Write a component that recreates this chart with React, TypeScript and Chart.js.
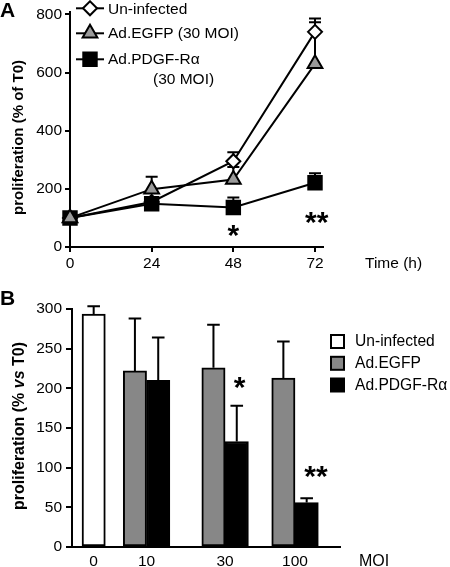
import React, { useEffect, useRef } from 'react';
import { Chart, registerables } from 'chart.js';

Chart.register(...registerables);

const FONT = '"Liberation Sans", Arial, Helvetica, sans-serif';

// ---------------- Panel A data ----------------
const timeHours = [0, 24, 48, 72];
const uninfectedA = [100, 155, 295, 740];
const uninfectedErrA = [0, 10, 31, 46];
const egfpA = [100, 199, 232, 630];
const egfpErrA = [0, 43, 43, 143];
const pdgfA = [100, 149, 136, 221];
const pdgfErrA = [0, 10, 34, 33];
const yTicksA = [0, 200, 400, 600, 800];
const legendLabelsA = ['Un-infected', 'Ad.EGFP (30 MOI)', 'Ad.PDGF-R\u03b1', '(30 MOI)'];
const starsA = [
  { x: 48, y: 54, text: '*' },
  { x: 72.5, y: 100, text: '**' },
];

// ---------------- Panel B data ----------------
const moiLabels = ['0', '10', '30', '100'];
const uninfectedB: (number | null)[] = [293.5, null, null, null];
const uninfectedErrB: (number | null)[] = [10, null, null, null];
const egfpB: (number | null)[] = [null, 222, 226, 213];
const egfpErrB: (number | null)[] = [null, 66, 54, 46];
const pdgfB: (number | null)[] = [null, 210, 133, 56];
const pdgfErrB: (number | null)[] = [null, 54, 45, 5.5];
const yTicksB = [0, 50, 100, 150, 200, 250, 300];
const legendLabelsB = ['Un-infected', 'Ad.EGFP', 'Ad.PDGF-R\u03b1'];
const starsB = [
  { group: 2, y: 207, text: '*' },
  { group: 3, y: 95, text: '**' },
];

// ---------------- layout constants ----------------
const groupCenterB = [0.93, 3.2, 6.57, 9.57];
const starShiftB = [0.62, 0.9];

function drawMarker(ctx: CanvasRenderingContext2D, style: string, x: number, y: number, r: number, fill: string) {
  ctx.save();
  ctx.beginPath();
  if (style === 'rectRot') {
    ctx.moveTo(x - r, y);
    ctx.lineTo(x, y - r);
    ctx.lineTo(x + r, y);
    ctx.lineTo(x, y + r);
    ctx.closePath();
  } else if (style === 'triangle') {
    ctx.moveTo(x, y - r);
    ctx.lineTo(x + 0.866 * r, y + 0.5 * r);
    ctx.lineTo(x - 0.866 * r, y + 0.5 * r);
    ctx.closePath();
  } else {
    const s = 2 * r * Math.SQRT1_2;
    ctx.rect(x - s / 2, y - s / 2, s, s);
  }
  ctx.fillStyle = fill;
  ctx.fill();
  ctx.lineWidth = 2;
  ctx.strokeStyle = '#000';
  ctx.stroke();
  ctx.restore();
}

function drawStar(ctx: CanvasRenderingContext2D, text: string, cx: number, cy: number) {
  ctx.save();
  ctx.font = `bold 30px ${FONT}`;
  ctx.fillStyle = '#000';
  ctx.textAlign = 'center';
  ctx.textBaseline = 'alphabetic';
  const m = ctx.measureText(text);
  const base = cy + (m.actualBoundingBoxAscent - m.actualBoundingBoxDescent) / 2;
  ctx.fillText(text, cx, base);
  ctx.restore();
}

function drawVerticalTitle(ctx: CanvasRenderingContext2D, parts: { t: string; f: string }[], x: number, cy: number) {
  ctx.save();
  ctx.translate(x, cy);
  ctx.rotate(-Math.PI / 2);
  ctx.fillStyle = '#000';
  ctx.textBaseline = 'alphabetic';
  ctx.textAlign = 'left';
  let total = 0;
  parts.forEach((p) => {
    ctx.font = p.f;
    total += ctx.measureText(p.t).width;
  });
  let pos = -total / 2;
  parts.forEach((p) => {
    ctx.font = p.f;
    ctx.fillText(p.t, pos, 0);
    pos += ctx.measureText(p.t).width;
  });
  ctx.restore();
}

function zeroPad(s: any) {
  s.paddingTop = 0;
  s.paddingBottom = 0;
  s.paddingLeft = 0;
  s.paddingRight = 0;
}

const axisCommon = {
  border: { display: true, color: '#000', width: 2 },
};

function buildChartA(canvas: HTMLCanvasElement) {
  const valsA = [uninfectedA, egfpA, pdgfA];
  const errsA = [uninfectedErrA, egfpErrA, pdgfErrA];
  const styles = [
    { ps: 'rectRot', r: 7, bg: '#ffffff', order: 2 },
    { ps: 'triangle', r: 8.5, bg: '#9a9a9a', order: 0 },
    { ps: 'rect', r: 9.5, bg: '#000000', order: 1 },
  ];
  const plugin = {
    id: 'panelA',
    beforeDatasetsDraw(chart: any) {
      const ctx = chart.ctx as CanvasRenderingContext2D;
      const ys = chart.scales.y;
      ctx.save();
      ctx.strokeStyle = '#000';
      ctx.lineWidth = 2;
      errsA.forEach((errs, di) => {
        const meta = chart.getDatasetMeta(di);
        errs.forEach((e, j) => {
          if (!e) return;
          const pt = meta.data[j];
          const v = valsA[di][j];
          const y0 = ys.getPixelForValue(v);
          const y1 = ys.getPixelForValue(v + e);
          ctx.beginPath();
          ctx.moveTo(pt.x, y0);
          ctx.lineTo(pt.x, y1);
          ctx.moveTo(pt.x - 6, y1);
          ctx.lineTo(pt.x + 6, y1);
          ctx.stroke();
        });
      });
      ctx.restore();
    },
    afterDraw(chart: any) {
      const ctx = chart.ctx as CanvasRenderingContext2D;
      const xs = chart.scales.x;
      const ys = chart.scales.y;
      ctx.save();
      ctx.fillStyle = '#000';
      ctx.font = `bold 21px ${FONT}`;
      ctx.textAlign = 'left';
      ctx.textBaseline = 'alphabetic';
      ctx.fillText('A', 0, 16.7);
      ctx.font = `15.5px ${FONT}`;
      ctx.fillText('Time (h)', 365, 268);
      const rows = [
        { y: 8.3, base: 14, s: styles[0], label: legendLabelsA[0] },
        { y: 33.3, base: 38.3, s: styles[1], label: legendLabelsA[1] },
        { y: 59.3, base: 64.3, s: styles[2], label: legendLabelsA[2] },
      ];
      rows.forEach((row) => {
        ctx.save();
        ctx.strokeStyle = '#000';
        ctx.lineWidth = 2;
        ctx.beginPath();
        ctx.moveTo(76, row.y);
        ctx.lineTo(104, row.y);
        ctx.stroke();
        ctx.restore();
        drawMarker(ctx, row.s.ps, 90, row.y, row.s.r, row.s.bg);
        ctx.fillStyle = '#000';
        ctx.font = `15.5px ${FONT}`;
        ctx.fillText(row.label, 108, row.base);
      });
      ctx.fillText(legendLabelsA[3], 153, 84);
      ctx.restore();
      drawVerticalTitle(ctx, [{ t: 'proliferation (% of T0)', f: `bold 15px ${FONT}` }], 23, 137.5);
      starsA.forEach((s) => drawStar(ctx, s.text, xs.getPixelForValue(s.x), ys.getPixelForValue(s.y)));
    },
  };

  return new Chart(canvas, {
    type: 'line',
    data: {
      datasets: valsA.map((vals, i) => ({
        label: legendLabelsA[i],
        data: timeHours.map((t, j) => ({ x: t, y: vals[j] })),
        order: styles[i].order,
        borderColor: '#000',
        borderWidth: 2,
        tension: 0,
        fill: false,
        clip: false as any,
        pointStyle: styles[i].ps as any,
        pointRadius: styles[i].r,
        pointHoverRadius: styles[i].r,
        pointBackgroundColor: styles[i].bg,
        pointBorderColor: '#000',
        pointBorderWidth: 2,
      })),
    },
    options: {
      responsive: false,
      animation: false,
      devicePixelRatio: 1,
      events: [],
      layout: { padding: { left: 0, right: 127, top: 8, bottom: 0 } },
      plugins: { legend: { display: false }, tooltip: { enabled: false } },
      scales: {
        x: {
          type: 'linear',
          min: 0,
          max: 74.35,
          ...axisCommon,
          grid: { drawOnChartArea: false, drawTicks: true, tickLength: 5, color: '#000', lineWidth: 2, offset: false },
          ticks: { color: '#000', padding: 2, font: { family: FONT, size: 15.5 }, maxRotation: 0 },
          afterBuildTicks: (s: any) => {
            s.ticks = timeHours.map((v) => ({ value: v }));
          },
          afterFit: (s: any) => {
            s.height = 33;
            zeroPad(s);
          },
        },
        y: {
          type: 'linear',
          min: 0,
          max: 810,
          ...axisCommon,
          grid: { drawOnChartArea: false, drawTicks: true, tickLength: 5, color: '#000', lineWidth: 2 },
          ticks: { color: '#000', padding: 3, font: { family: FONT, size: 15.5 } },
          afterBuildTicks: (s: any) => {
            s.ticks = yTicksA.map((v) => ({ value: v }));
          },
          afterFit: (s: any) => {
            s.width = 70;
            zeroPad(s);
          },
        },
      },
    } as any,
    plugins: [plugin],
  });
}

function buildChartB(canvas: HTMLCanvasElement) {
  const series = [
    { vals: uninfectedB, errs: uninfectedErrB, shift: 0, bg: '#ffffff' },
    { vals: egfpB, errs: egfpErrB, shift: -0.5, bg: '#878787' },
    { vals: pdgfB, errs: pdgfErrB, shift: 0.5, bg: '#000000' },
  ];
  const pts = series.map((s) =>
    s.vals.flatMap((v, i) => (v == null ? [] : [{ x: groupCenterB[i] + s.shift, y: v, err: s.errs[i] as number }]))
  );

  const plugin = {
    id: 'panelB',
    afterDatasetsDraw(chart: any) {
      const ctx = chart.ctx as CanvasRenderingContext2D;
      const ys = chart.scales.y;
      ctx.save();
      ctx.strokeStyle = '#000';
      ctx.lineWidth = 2;
      pts.forEach((list, di) => {
        const meta = chart.getDatasetMeta(di);
        list.forEach((p, j) => {
          if (!p.err) return;
          const el = meta.data[j];
          const y0 = ys.getPixelForValue(p.y);
          const y1 = ys.getPixelForValue(p.y + p.err);
          ctx.beginPath();
          ctx.moveTo(el.x, y0);
          ctx.lineTo(el.x, y1);
          ctx.moveTo(el.x - 6.3, y1);
          ctx.lineTo(el.x + 6.3, y1);
          ctx.stroke();
        });
      });
      ctx.restore();
    },
    afterDraw(chart: any) {
      const ctx = chart.ctx as CanvasRenderingContext2D;
      const xs = chart.scales.x;
      const ys = chart.scales.y;
      ctx.save();
      ctx.fillStyle = '#000';
      ctx.font = `bold 21px ${FONT}`;
      ctx.textAlign = 'left';
      ctx.textBaseline = 'alphabetic';
      ctx.fillText('B', 0, 25);
      ctx.font = `16px ${FONT}`;
      ctx.fillText('MOI', 359, 285.5);
      const rowsY = [61.5, 83.3, 105];
      const rowsBase = [65.7, 88.3, 110];
      legendLabelsB.forEach((label, i) => {
        ctx.save();
        ctx.fillStyle = series[i].bg;
        ctx.fillRect(331, rowsY[i] - 6.5, 13, 13);
        ctx.strokeStyle = '#000';
        ctx.lineWidth = 2;
        ctx.strokeRect(331, rowsY[i] - 6.5, 13, 13);
        ctx.restore();
        ctx.fillStyle = '#000';
        ctx.font = `15.6px ${FONT}`;
        ctx.fillText(label, 355, rowsBase[i]);
      });
      ctx.restore();
      drawVerticalTitle(
        ctx,
        [
          { t: 'proliferation (% ', f: `bold 16px ${FONT}` },
          { t: 'vs', f: `italic bold 16px ${FONT}` },
          { t: ' T0)', f: `bold 16px ${FONT}` },
        ],
        23.5,
        146
      );
      starsB.forEach((s, i) =>
        drawStar(ctx, s.text, xs.getPixelForValue(groupCenterB[s.group] + starShiftB[i]), ys.getPixelForValue(s.y))
      );
    },
  };

  return new Chart(canvas, {
    type: 'bar',
    data: {
      datasets: series.map((s, i) => ({
        label: legendLabelsB[i],
        data: pts[i].map((p) => ({ x: p.x, y: p.y })),
        backgroundColor: s.bg,
        borderColor: '#000',
        borderWidth: 2,
        borderSkipped: false,
        grouped: false,
        barPercentage: 1,
        categoryPercentage: 1,
      })),
    },
    options: {
      responsive: false,
      animation: false,
      devicePixelRatio: 1,
      events: [],
      layout: { padding: { left: 0, right: 110, top: 29, bottom: 0 } },
      plugins: { legend: { display: false }, tooltip: { enabled: false } },
      scales: {
        x: {
          type: 'linear',
          min: 0,
          max: 11.5,
          offset: false,
          ...axisCommon,
          grid: { display: false, drawOnChartArea: false, drawTicks: false, offset: false },
          ticks: {
            color: '#000',
            padding: 5.5,
            font: { family: FONT, size: 15.5 },
            maxRotation: 0,
            autoSkip: false,
            callback: (_v: any, i: number) => moiLabels[i],
          },
          afterBuildTicks: (s: any) => {
            s.ticks = groupCenterB.map((v) => ({ value: v }));
          },
          afterFit: (s: any) => {
            s.height = 20;
            zeroPad(s);
          },
        },
        y: {
          type: 'linear',
          min: 0,
          max: 300,
          ...axisCommon,
          grid: { drawOnChartArea: false, drawTicks: true, tickLength: 6, color: '#000', lineWidth: 2 },
          ticks: { color: '#000', padding: 4, font: { family: FONT, size: 15.5 } },
          afterBuildTicks: (s: any) => {
            s.ticks = yTicksB.map((v) => ({ value: v }));
          },
          afterFit: (s: any) => {
            s.width = 72;
            zeroPad(s);
          },
        },
      },
    } as any,
    plugins: [plugin],
  });
}

export default function App() {
  const refA = useRef<HTMLCanvasElement>(null);
  const refB = useRef<HTMLCanvasElement>(null);
  useEffect(() => {
    const a = buildChartA(refA.current!);
    const b = buildChartB(refB.current!);
    return () => {
      a.destroy();
      b.destroy();
    };
  }, []);
  return (
    <div style={{ position: 'absolute', left: 0, top: 0, width: 450, height: 567, background: '#fff', overflow: 'hidden' }}>
      <canvas
        ref={refA}
        width={450}
        height={280}
        style={{ position: 'absolute', left: 0, top: 0, width: 450, height: 280, display: 'block' }}
      />
      <canvas
        ref={refB}
        width={450}
        height={287}
        style={{ position: 'absolute', left: 0, top: 280, width: 450, height: 287, display: 'block' }}
      />
    </div>
  );
}
